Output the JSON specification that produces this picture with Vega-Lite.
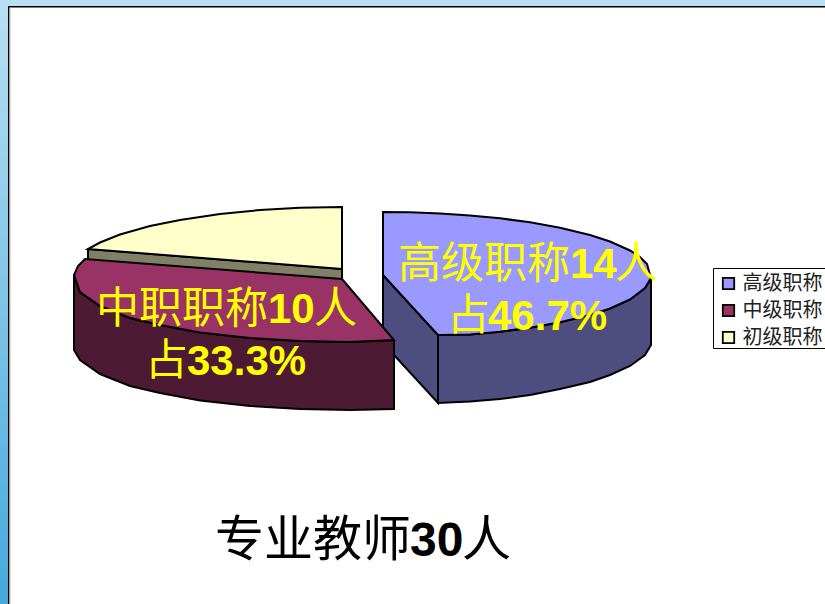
{"$schema":"https://vega.github.io/schema/vega-lite/v6.json","width":825,"height":604,"autosize":"none","padding":0,"background":"white","view":{"stroke":null},
"datasets":{
"sides":[
{"k":"初级职称","n":1,"x":88,"y":249},{"k":"初级职称","n":2,"x":342,"y":269},{"k":"初级职称","n":3,"x":342,"y":285},{"k":"初级职称","n":4,"x":88,"y":265},{"k":"初级职称","n":5,"x":88,"y":249},
{"k":"高级内壁","n":1,"x":383,"y":275},{"k":"高级内壁","n":2,"x":438,"y":335},{"k":"高级内壁","n":3,"x":438,"y":403},{"k":"高级内壁","n":4,"x":383,"y":343},{"k":"高级内壁","n":5,"x":383,"y":275},
{"k":"高级职称","n":1,"x":438,"y":335},{"k":"高级职称","n":2,"x":470,"y":334.6},{"k":"高级职称","n":3,"x":500,"y":331.7},{"k":"高级职称","n":4,"x":530,"y":327.7},{"k":"高级职称","n":5,"x":560,"y":322.3},{"k":"高级职称","n":6,"x":590,"y":315},{"k":"高级职称","n":7,"x":610,"y":308.5},{"k":"高级职称","n":8,"x":630,"y":299.5},{"k":"高级职称","n":9,"x":645,"y":288},{"k":"高级职称","n":10,"x":651,"y":278},{"k":"高级职称","n":11,"x":651,"y":345},{"k":"高级职称","n":12,"x":645,"y":355},{"k":"高级职称","n":13,"x":630,"y":366},{"k":"高级职称","n":14,"x":610,"y":375},{"k":"高级职称","n":15,"x":590,"y":382},{"k":"高级职称","n":16,"x":560,"y":389},{"k":"高级职称","n":17,"x":530,"y":395},{"k":"高级职称","n":18,"x":500,"y":399},{"k":"高级职称","n":19,"x":470,"y":401.6},{"k":"高级职称","n":20,"x":438,"y":403},{"k":"高级职称","n":21,"x":438,"y":335},
{"k":"中级职称","n":1,"x":394,"y":340},{"k":"中级职称","n":2,"x":394,"y":409},{"k":"中级职称","n":3,"x":350,"y":410},{"k":"中级职称","n":4,"x":300,"y":409},{"k":"中级职称","n":5,"x":250,"y":406},{"k":"中级职称","n":6,"x":200,"y":400.5},{"k":"中级职称","n":7,"x":160,"y":393},{"k":"中级职称","n":8,"x":130,"y":386},{"k":"中级职称","n":9,"x":100,"y":374},{"k":"中级职称","n":10,"x":80,"y":360},{"k":"中级职称","n":11,"x":74,"y":350},{"k":"中级职称","n":12,"x":74,"y":275},{"k":"中级职称","n":13,"x":80,"y":292},{"k":"中级职称","n":14,"x":100,"y":306},{"k":"中级职称","n":15,"x":130,"y":318},{"k":"中级职称","n":16,"x":160,"y":325},{"k":"中级职称","n":17,"x":200,"y":332.5},{"k":"中级职称","n":18,"x":250,"y":338},{"k":"中级职称","n":19,"x":300,"y":341},{"k":"中级职称","n":20,"x":350,"y":342},{"k":"中级职称","n":21,"x":394,"y":340}
],
"tops":[
{"k":"高级职称","n":1,"x":383,"y":275},{"k":"高级职称","n":2,"x":383,"y":212},{"k":"高级职称","n":3,"x":410,"y":212.3},{"k":"高级职称","n":4,"x":440,"y":213.4},{"k":"高级职称","n":5,"x":470,"y":215.4},{"k":"高级职称","n":6,"x":500,"y":218.3},{"k":"高级职称","n":7,"x":530,"y":222.3},{"k":"高级职称","n":8,"x":560,"y":227.7},{"k":"高级职称","n":9,"x":590,"y":235},{"k":"高级职称","n":10,"x":610,"y":241.5},{"k":"高级职称","n":11,"x":630,"y":250.5},{"k":"高级职称","n":12,"x":640,"y":257},{"k":"高级职称","n":13,"x":647,"y":264},{"k":"高级职称","n":14,"x":651,"y":278},{"k":"高级职称","n":15,"x":645,"y":288},{"k":"高级职称","n":16,"x":630,"y":299.5},{"k":"高级职称","n":17,"x":610,"y":308.5},{"k":"高级职称","n":18,"x":590,"y":315},{"k":"高级职称","n":19,"x":560,"y":322.3},{"k":"高级职称","n":20,"x":530,"y":327.7},{"k":"高级职称","n":21,"x":500,"y":331.7},{"k":"高级职称","n":22,"x":470,"y":334.6},{"k":"高级职称","n":23,"x":438,"y":335},{"k":"高级职称","n":24,"x":383,"y":275},
{"k":"中级职称","n":1,"x":342,"y":279},{"k":"中级职称","n":2,"x":85,"y":259},{"k":"中级职称","n":3,"x":78,"y":266},{"k":"中级职称","n":4,"x":74,"y":275},{"k":"中级职称","n":5,"x":80,"y":292},{"k":"中级职称","n":6,"x":100,"y":306},{"k":"中级职称","n":7,"x":130,"y":318},{"k":"中级职称","n":8,"x":160,"y":325},{"k":"中级职称","n":9,"x":200,"y":332.5},{"k":"中级职称","n":10,"x":250,"y":338},{"k":"中级职称","n":11,"x":300,"y":341},{"k":"中级职称","n":12,"x":350,"y":342},{"k":"中级职称","n":13,"x":394,"y":340},{"k":"中级职称","n":14,"x":342,"y":279},
{"k":"初级职称","n":1,"x":342,"y":269},{"k":"初级职称","n":2,"x":342,"y":207},{"k":"初级职称","n":3,"x":300,"y":207.8},{"k":"初级职称","n":4,"x":260,"y":210},{"k":"初级职称","n":5,"x":220,"y":214},{"k":"初级职称","n":6,"x":180,"y":220},{"k":"初级职称","n":7,"x":150,"y":226},{"k":"初级职称","n":8,"x":120,"y":234.5},{"k":"初级职称","n":9,"x":100,"y":242.5},{"k":"初级职称","n":10,"x":88,"y":249},{"k":"初级职称","n":11,"x":342,"y":269}
],
"cjk":[
{"t":"高级职称","x":398,"y":278,"s":43},{"t":"人","x":615,"y":278,"s":43},{"t":"占","x":447,"y":330,"s":43},
{"t":"中职职称","x":96,"y":323,"s":43},{"t":"人","x":314,"y":323,"s":43},{"t":"占","x":145,"y":375,"s":43},
{"t":"专业教师","x":215,"y":556,"s":49},{"t":"人","x":462,"y":556,"s":49}],
"latin":[
{"t":"14","x":570,"y":278,"s":42},{"t":"46.7%","x":488,"y":330,"s":42},{"t":"10","x":268,"y":323,"s":42},{"t":"33.3%","x":187,"y":375,"s":42},{"t":"30","x":410,"y":556,"s":48}]
},
"layer":[
{"data":{"values":[{"a":0,"b":8,"c":0,"d":604}]},"mark":{"type":"rect","color":{"gradient":"linear","x1":0,"y1":0,"x2":0,"y2":1,"stops":[{"offset":0,"color":"#b8e0f2"},{"offset":1,"color":"#45a9dc"}]}},"encoding":{"x":{"field":"a","type":"quantitative","scale":{"domain":[0,825]},"axis":null},"x2":{"field":"b"},"y":{"field":"c","type":"quantitative","scale":{"domain":[604,0]},"axis":null},"y2":{"field":"d"}}},
{"data":{"values":[{"a":0,"b":825,"c":0,"d":6,"f":"蓝"},{"a":8,"b":9.5,"c":6,"d":604,"f":"黑"},{"a":8,"b":825,"c":6,"d":7.5,"f":"黑"},{"a":9.5,"b":10.5,"c":7.5,"d":604,"f":"灰"}]},"mark":{"type":"rect"},"encoding":{"x":{"field":"a","type":"quantitative","scale":{"domain":[0,825]},"axis":null},"x2":{"field":"b"},"y":{"field":"c","type":"quantitative","scale":{"domain":[604,0]},"axis":null},"y2":{"field":"d"},"fill":{"field":"f","type":"nominal","scale":{"domain":["蓝","黑","灰"],"range":["#b8e0f2","#000000","#bbbbbb"]},"legend":null}}},
{"data":{"values":[{"a":713.5,"b":830,"c":268.5,"d":348.5}]},"mark":{"type":"rect","fill":"white","stroke":"black","strokeWidth":1},"encoding":{"x":{"field":"a","type":"quantitative","scale":{"domain":[0,825]},"axis":null},"x2":{"field":"b"},"y":{"field":"c","type":"quantitative","scale":{"domain":[604,0]},"axis":null},"y2":{"field":"d"}}},
{"data":{"name":"sides"},"mark":{"type":"line","stroke":"black","strokeWidth":2,"strokeJoin":"miter"},"encoding":{"x":{"field":"x","type":"quantitative","scale":{"domain":[0,825]},"axis":null},"y":{"field":"y","type":"quantitative","scale":{"domain":[604,0]},"axis":null},"order":{"field":"n"},"fill":{"field":"k","type":"nominal","scale":{"domain":["初级职称","高级内壁","高级职称","中级职称"],"range":["#808066","#4d4d80","#4d4d80","#4d1a33"]},"legend":null}}},
{"data":{"name":"tops"},"mark":{"type":"line","stroke":"black","strokeWidth":2,"strokeJoin":"miter"},"encoding":{"x":{"field":"x","type":"quantitative","scale":{"domain":[0,825]},"axis":null},"y":{"field":"y","type":"quantitative","scale":{"domain":[604,0]},"axis":null},"order":{"field":"n"},"fill":{"field":"k","type":"nominal","scale":{"domain":["高级职称","中级职称","初级职称"],"range":["#9999ff","#993366","#ffffcc"]},"legend":{"title":null,"orient":"none","legendX":713.5,"legendY":268.5,"zindex":1,"padding":5,"symbolType":"square","symbolSize":130,"symbolStrokeColor":"black","symbolStrokeWidth":1.8,"labelFont":"Noto Sans CJK SC","labelFontSize":20,"labelColor":"#222222","rowPadding":7,"labelOffset":4}}}},
{"data":{"name":"cjk"},"mark":{"type":"text","align":"left","baseline":"alphabetic","font":"Noto Sans CJK SC"},"encoding":{"x":{"field":"x","type":"quantitative","scale":{"domain":[0,825]},"axis":null},"y":{"field":"y","type":"quantitative","scale":{"domain":[604,0]},"axis":null},"text":{"field":"t"},"size":{"field":"s","type":"quantitative","scale":null},"color":{"condition":{"test":"datum.s==49","value":"black"},"value":"#ffff00"}}},
{"data":{"name":"latin"},"mark":{"type":"text","align":"left","baseline":"alphabetic","font":"Liberation Sans","fontWeight":"bold"},"encoding":{"x":{"field":"x","type":"quantitative","scale":{"domain":[0,825]},"axis":null},"y":{"field":"y","type":"quantitative","scale":{"domain":[604,0]},"axis":null},"text":{"field":"t"},"size":{"field":"s","type":"quantitative","scale":null},"color":{"condition":{"test":"datum.s==48","value":"black"},"value":"#ffff00"}}}
],
"resolve":{"scale":{"fill":"independent"}}
}
